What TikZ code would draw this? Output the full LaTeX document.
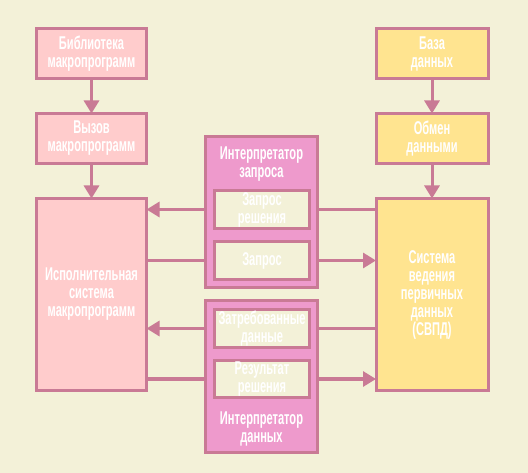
\documentclass[tikz,border=0pt]{standalone}
\usepackage{fontspec}
\setmainfont{Liberation Sans}[FakeStretch=0.6]
\usetikzlibrary{arrows.meta,backgrounds}
\definecolor{bgc}{HTML}{F3F1D8}
\definecolor{edge}{HTML}{C97A95}
\definecolor{pinkf}{HTML}{FFCCCC}
\definecolor{yelf}{HTML}{FFE490}
\definecolor{magf}{HTML}{EE9ACC}
\begin{document}
\begin{tikzpicture}[x=1pt,y=-1pt,
  every node/.style={inner sep=0pt, outer sep=0pt},
  box/.style={draw=edge, line width=3pt, minimum width=#1},
  pinkbox/.style={box=110pt, fill=pinkf},
  yelbox/.style={box=112pt, fill=yelf},
  outerbox/.style={draw=edge, line width=3pt, fill=magf, minimum width=112pt},
  innerbox/.style={draw=edge, line width=3pt, fill=bgc, minimum width=95pt},
  txt/.style={text=white, font=\fontsize{18.5}{18}\selectfont\bfseries, align=center},
  conn/.style={draw=edge, line width=3pt},
  arr/.style={conn, -{Triangle[length=13pt,width=15pt]}}
]
\useasboundingbox (0,0) rectangle (528,473);
% boxes
\node[pinkbox, minimum height=50pt] (lib) at (91.5,53.5) {};
\node[txt] at (lib) {Библиотека\\макропрограмм};
\node[pinkbox, minimum height=50pt] (call) at (91.5,138.5) {};
\node[txt] at (call) {Вызов\\макропрограмм};
\node[pinkbox, minimum height=192pt] (exec) at (91.5,294.5) {};
\node[txt] at (exec) {Исполнительная\\система\\макропрограмм};

\node[yelbox, minimum height=50pt] (db) at (432,53.5) {};
\node[txt] at (db) {База\\данных};
\node[yelbox, minimum height=50pt] (xchg) at (432,138.5) {};
\node[txt] at (xchg) {Обмен\\данными};
\node[yelbox, minimum height=192pt] (svpd) at (432,294.5) {};
\node[txt] at (svpd) {Система\\ведения\\первичных\\данных\\(СВПД)};

\node[outerbox, minimum height=151pt] (iq) at (261.5,212) {};
\node[txt] (iqt) at (261.5,164) {Интерпретатор\\запроса};
\node[innerbox, minimum height=38pt] (zr) at (262,209.5) {};
\node[txt] at (zr) {Запрос\\решения};
\node[innerbox, minimum height=38pt] (zq) at (262,260.5) {};
\node[txt] at (zq) {Запрос};

\node[outerbox, minimum height=152pt] (id) at (261.5,376.5) {};
\node[txt] (idt) at (261.5,428.5) {Интерпретатор\\данных};
\node[innerbox, minimum height=38pt] (zd) at (262,328.5) {};
\node[txt] at (zd) {Затребованные\\данные};
\node[innerbox, minimum height=37pt] (rr) at (262,379) {};
\node[txt] at (rr) {Результат\\решения};

\begin{pgfonlayer}{background}
\fill[bgc] (0,0) rectangle (528,473);
\draw[arr] (lib) -- (call);
\draw[arr] (call) -- (exec);
\draw[arr] (db) -- (xchg);
\draw[arr] (xchg) -- (svpd);
\draw[arr] (svpd.west |- zr) -- (exec.east |- zr);
\draw[arr] (exec.east |- zq) -- (svpd.west |- zq);
\draw[arr] (svpd.west |- zd) -- (exec.east |- zd);
\draw[arr] (exec.east |- rr) -- (svpd.west |- rr);
\end{pgfonlayer}
\end{tikzpicture}
\end{document}
